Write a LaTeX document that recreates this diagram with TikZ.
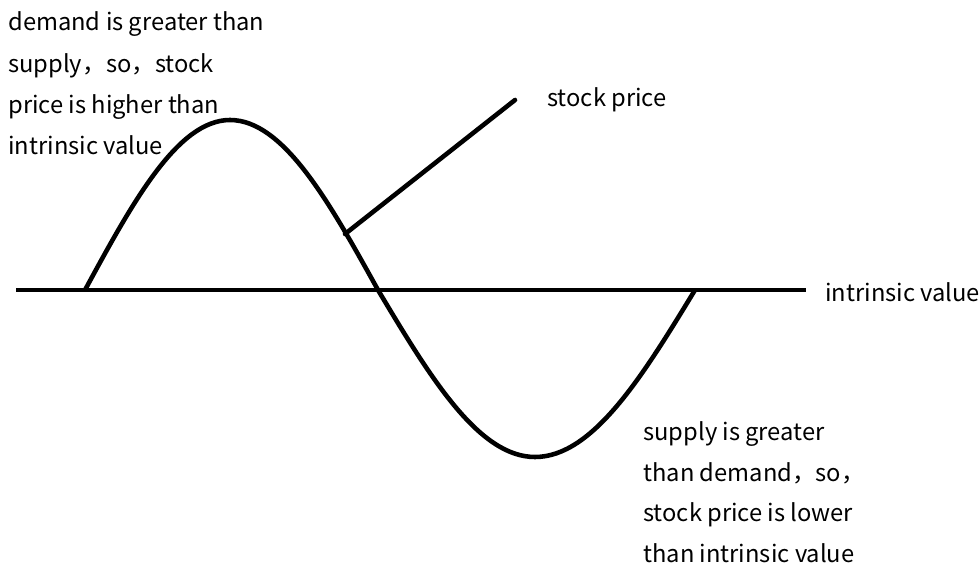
\documentclass[tikz,border=0pt]{standalone}
\usepackage{fontspec}
\usepackage{tikz}
\usetikzlibrary{positioning}
\newfontfamily\notefont{Noto Sans CJK SC}

\begin{document}
\begin{tikzpicture}[
    x=0.02cm, y=-0.02cm,
    note/.style={inner sep=0pt, align=left, anchor=base west, font=\notefont\fontsize{13.5}{23.6}\selectfont},
    thickline/.style={line width=2.6pt, black}
  ]
    \useasboundingbox (0,0) rectangle (979,567);

    % axis = intrinsic value
    \coordinate (axisL) at (16,290);
    \coordinate (axisR) at (806,290);
    \draw[thickline] (axisL) -- (axisR);
    \node[note] (iv) at (825,301.5) {intrinsic value};

    % stock price wave
    \coordinate (start) at (85,290);
    \coordinate (peak) at (230,120);
    \coordinate (cross) at (378,290);
    \coordinate (trough) at (535,457);
    \coordinate (stop) at (695,290);
    \draw[thickline, line join=round]
      (start) .. controls (132.3,202.9) and (177.5,120) .. (peak)
              .. controls (283.6,120) and (329.7,202.9) .. (cross)
              .. controls (429.2,375.6) and (478.1,457) .. (trough)
              .. controls (592.9,457) and (642.9,375.6) .. (stop);

    % leader to the stock price label
    \coordinate (onwave) at (345,234);
    \coordinate (leadend) at (515,100);
    \draw[thickline, line cap=round] (onwave) -- (leadend);
    \node[note] (sp) at (547,106.5) {stock price};

    % comments above and below (anchored at their last line)
    \node[note] (high) at (8,155) {demand is greater than\\supply，so，stock\\price is higher than\\intrinsic value};
    \node[note, font=\notefont\fontsize{13.5}{23}\selectfont] (low) at (643,562) {supply is greater\\than demand，so，\\stock price is lower\\than intrinsic value};
  \end{tikzpicture}
\end{document}
